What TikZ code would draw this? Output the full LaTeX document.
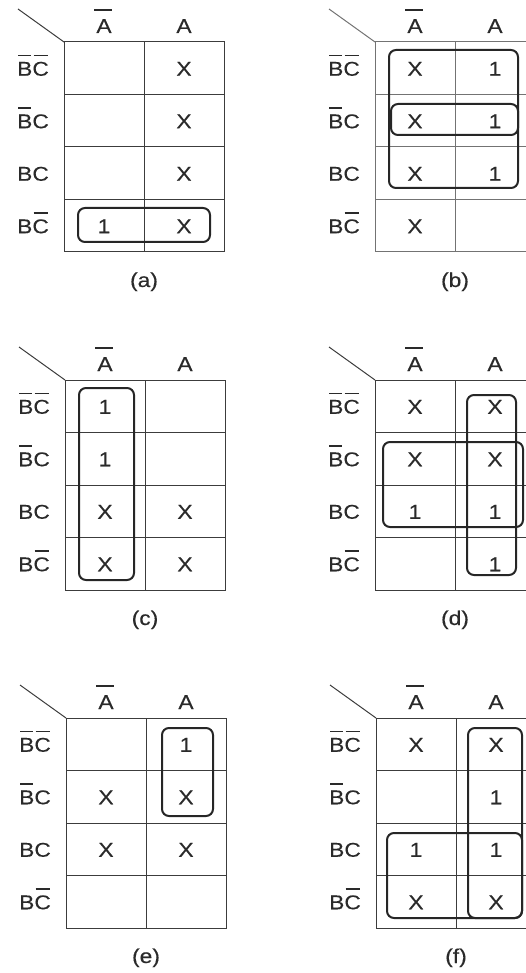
\documentclass[tikz,border=0pt]{standalone}
\usepackage{fontspec}
\setmainfont{Liberation Sans}[FakeStretch=1.14,FakeBold=0.3]
\definecolor{ink}{HTML}{2A2A2A}
\definecolor{rulegray}{HTML}{3C3C3C}

% complemented letter: bar over one letter
\newcommand{\nt}[2][.98em]{{\setbox0\hbox{#2}\rlap{\kern.06em\rule[#1]{\dimexpr\wd0-.12em\relax}{.07em}}\box0}}
\newcommand{\nA}{\rlap{\kern-.1em\rule[1.12em]{.9em}{.07em}}A}

% empty map: grid, corner line, labels, caption and cell coordinates
\newcommand{\kmapgrid}[2]{%
\draw[kline] (0,0) rectangle (160,210);
\draw[kline] (80,0) -- (80,210);
\foreach \yy in {52.5,105,157.5} \draw[kline] (0,\yy) -- (160,\yy);
\draw[kline] (-46,-33) -- (0,0);
\node[lbl] (#1-na) at (40,-9) {\nA};
\node[lbl] (#1-a) at (120,-9) {A};
\node[lbl] (#1-r1) at (-31,33.75) {\nt{B}\nt{C}};
\node[lbl] (#1-r2) at (-31,86.25) {\nt{B}C};
\node[lbl] (#1-r3) at (-31,138.75) {BC};
\node[lbl] (#1-r4) at (-31,191.25) {B\nt{C}};
\node[lbl] (#1-cap) at (80,245) {(#2)};
\foreach \r/\yy in {1/33.75,2/86.25,3/138.75,4/191.25} {
  \coordinate (#1-\r1) at (40,\yy);
  \coordinate (#1-\r2) at (120,\yy);
}}

\begin{document}
\begin{tikzpicture}[x=1pt,y=-1pt,
  font=\fontsize{20}{24}\selectfont,
  kline/.style={draw=rulegray,line width=1pt},
  lbl/.style={inner sep=0pt,anchor=base,text=ink},
  val/.style={inner sep=0pt,anchor=base,text=ink},
  grp/.style={draw=black!85,line width=2pt,rounded corners=7pt}]
\useasboundingbox (0,0) rectangle (526,973);
\clip (0,0) rectangle (526,973);

% (a)
\begin{scope}[shift={(64,42)}]
\kmapgrid{a}{a}
\node[val] (a-v12) at (a-12) {X};
\node[val] (a-v22) at (a-22) {X};
\node[val] (a-v32) at (a-32) {X};
\node[val] (a-v41) at (a-41) {1};
\node[val] (a-v42) at (a-42) {X};
\draw[grp] (14,166) rectangle (146,200);
\end{scope}

% (b)
\begin{scope}[shift={(375,42)},kline/.append style={draw=black!55}]
\kmapgrid{b}{b}
\node[val] (b-v11) at (b-11) {X};
\node[val] (b-v12) at (b-12) {1};
\node[val] (b-v21) at (b-21) {X};
\node[val] (b-v22) at (b-22) {1};
\node[val] (b-v31) at (b-31) {X};
\node[val] (b-v32) at (b-32) {1};
\node[val] (b-v41) at (b-41) {X};
\draw[grp] (14,8) rectangle (143,146);
\draw[grp] (16,62) rectangle (143,93);
\end{scope}

% (c)
\begin{scope}[shift={(65,380)}]
\kmapgrid{c}{c}
\node[val] (c-v11) at (c-11) {1};
\node[val] (c-v21) at (c-21) {1};
\node[val] (c-v31) at (c-31) {X};
\node[val] (c-v32) at (c-32) {X};
\node[val] (c-v41) at (c-41) {X};
\node[val] (c-v42) at (c-42) {X};
\draw[grp] (14,8) rectangle (69,200);
\end{scope}

% (d)
\begin{scope}[shift={(375,380)}]
\kmapgrid{d}{d}
\node[val] (d-v11) at (d-11) {X};
\node[val] (d-v12) at (d-12) {X};
\node[val] (d-v21) at (d-21) {X};
\node[val] (d-v22) at (d-22) {X};
\node[val] (d-v31) at (d-31) {1};
\node[val] (d-v32) at (d-32) {1};
\node[val] (d-v42) at (d-42) {1};
\draw[grp] (92,15) rectangle (141,195);
\draw[grp] (8,62) rectangle (148,147);
\end{scope}

% (e)
\begin{scope}[shift={(66,718)}]
\kmapgrid{e}{e}
\node[val] (e-v12) at (e-12) {1};
\node[val] (e-v21) at (e-21) {X};
\node[val] (e-v22) at (e-22) {X};
\node[val] (e-v31) at (e-31) {X};
\node[val] (e-v32) at (e-32) {X};
\draw[grp] (96,10) rectangle (147,98);
\end{scope}

% (f)
\begin{scope}[shift={(376,718)}]
\kmapgrid{f}{f}
\node[val] (f-v11) at (f-11) {X};
\node[val] (f-v12) at (f-12) {X};
\node[val] (f-v22) at (f-22) {1};
\node[val] (f-v31) at (f-31) {1};
\node[val] (f-v32) at (f-32) {1};
\node[val] (f-v41) at (f-41) {X};
\node[val] (f-v42) at (f-42) {X};
\draw[grp] (92,10) rectangle (146,200);
\draw[grp] (11,115) rectangle (146,200);
\end{scope}
\end{tikzpicture}
\end{document}
